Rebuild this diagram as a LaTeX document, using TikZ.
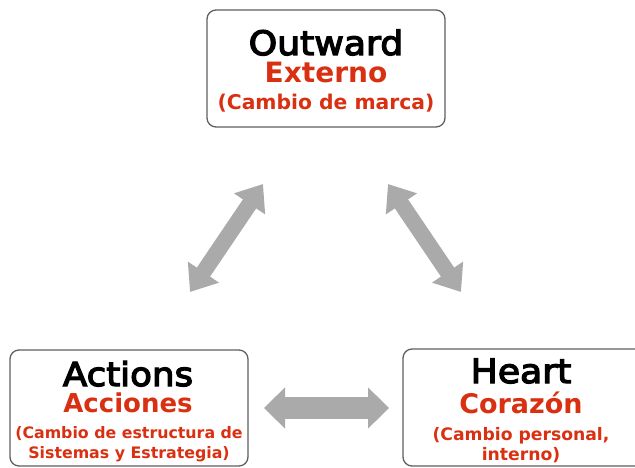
\documentclass[tikz,border=0pt]{standalone}
\usepackage{fontspec}
\setmainfont{DejaVu Sans}
\newfontfamily\titlefont[FakeBold=4,FakeStretch=1.08]{DejaVu Sans}
\usetikzlibrary{arrows.meta}
\definecolor{redtxt}{RGB}{218,48,18}
\definecolor{arrgray}{RGB}{170,170,170}
\definecolor{boxline}{RGB}{95,95,95}
\tikzset{
  card/.style={draw=boxline, line width=1.3pt, rounded corners=9pt, fill=white},
  ttl/.style={anchor=base, text=black, inner sep=0pt, text depth=0pt},
  sub/.style={anchor=base, text=redtxt, inner sep=0pt, text depth=0pt},
  note/.style={anchor=base, text=redtxt, inner sep=0pt},
  fatarrow/.style={draw=arrgray, line width=#1, {Triangle[width=36pt,length=24pt]}-{Triangle[width=36pt,length=24pt]}},
}
\newcommand{\tf}[1]{\titlefont\fontsize{#1}{#1}\selectfont}
\newcommand{\rf}[1]{\bfseries\fontsize{#1}{#1}\selectfont}
\begin{document}
\begin{tikzpicture}[x=1pt,y=-1pt]
\useasboundingbox (0,0) rectangle (635,468);
% boxes
\draw[card] (207,10) rectangle (445,127);
\draw[card] (10,350) rectangle (248,466);
\draw[card] (403,349) rectangle (650,466);
% top
\node[ttl, font=\tf{33.5}] (o1) at (326,55) {Outward};
\node[sub, font=\rf{28}, text height=17pt] (o2) at (326,83) {Externo};
\node[note, font=\rf{20.3}, text height=12pt] (o3) at (326,110) {(Cambio de marca)};
% left
\node[ttl, font=\tf{33}] (a1) at (128,386) {Actions};
\node[sub, font=\rf{26}, text height=15pt] (a2) at (128,412.5) {Acciones};
\node[note, font=\rf{15.8}, text height=10pt] (a3) at (129,438) {(Cambio de estructura de};
\node[note, font=\rf{15.8}, text height=10pt] (a4) at (129,458) {Sistemas y Estrategia)};
% right
\node[ttl, font=\tf{33.5}] (h1) at (521,383) {Heart};
\node[sub, font=\rf{27}, text height=17pt] (h2) at (521,413) {Corazón};
\node[note, font=\rf{17.2}, text height=11pt] (h3) at (521,440) {(Cambio personal,};
\node[note, font=\rf{17.2}, text height=11pt] (h4) at (521,460.5) {interno)};
% arrow end points
\coordinate (la) at (190,292);
\coordinate (lb) at (263,184);
\coordinate (ra) at (388,184);
\coordinate (rb) at (461,292);
\coordinate (ba) at (264,408);
\coordinate (bb) at (389,408);
\draw[fatarrow=16pt] (la) -- (lb);
\draw[fatarrow=16pt] (ra) -- (rb);
\draw[draw=arrgray, line width=22pt, {Triangle[width=40pt,length=21pt]}-{Triangle[width=40pt,length=21pt]}] (ba) -- (bb);
\end{tikzpicture}
\end{document}
